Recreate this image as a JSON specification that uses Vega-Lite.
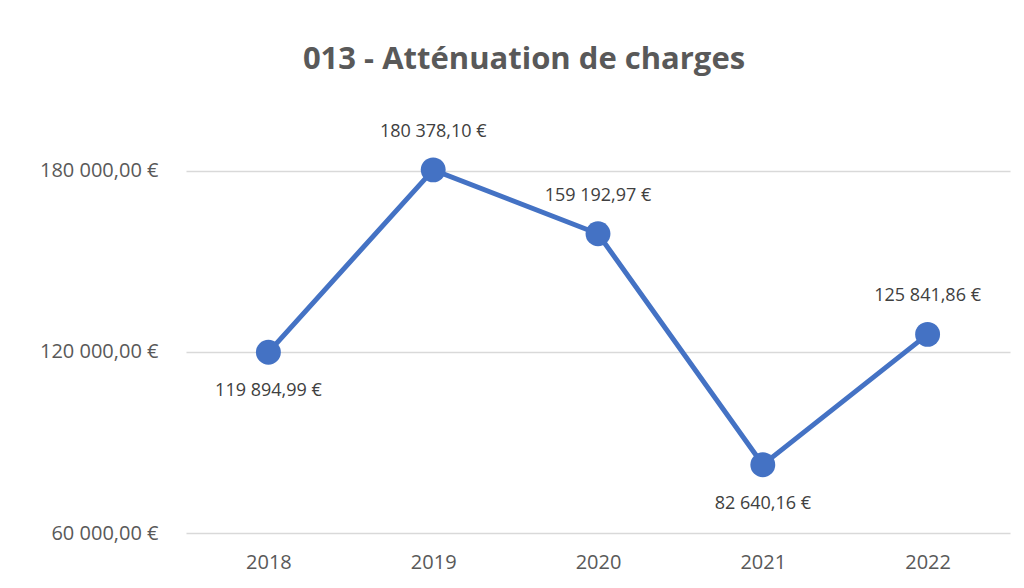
{
  "$schema": "https://vega.github.io/schema/vega-lite/v6.json",
  "autosize": "none",
  "width": 824,
  "height": 443,
  "padding": {"left": 186, "top": 90, "right": 14, "bottom": 55},
  "background": "white",
  "config": {"view": {"stroke": null}, "font": "Open Sans"},
  "title": {
    "text": "013 - Atténuation de charges",
    "font": "Open Sans",
    "fontSize": 31,
    "fontWeight": "bold",
    "color": "#595959",
    "anchor": "middle",
    "dx": -74,
    "offset": 14
  },
  "data": {
    "values": [
      {"year": "2018", "value": 119894.99, "label": "119 894,99 €", "pos": "below"},
      {"year": "2019", "value": 180378.10, "label": "180 378,10 €", "pos": "above"},
      {"year": "2020", "value": 159192.97, "label": "159 192,97 €", "pos": "above"},
      {"year": "2021", "value": 82640.16, "label": "82 640,16 €", "pos": "below"},
      {"year": "2022", "value": 125841.86, "label": "125 841,86 €", "pos": "above"}
    ]
  },
  "encoding": {
    "x": {
      "field": "year", "type": "ordinal",
      "scale": {"type": "point", "padding": 0.5},
      "axis": {"title": null, "labelAngle": 0, "domain": false, "ticks": false, "labelFontSize": 20, "labelColor": "#595959", "labelPadding": 19, "labelFont": "Open Sans"}
    },
    "y": {
      "field": "value", "type": "quantitative",
      "scale": {"domain": [60000, 206850], "nice": false, "zero": false},
      "axis": {"title": null, "values": [60000, 120000, 180000], "labelExpr": "replace(format(datum.value, ','), ',', ' ') + ',00 €'", "domain": false, "ticks": false, "labelFontSize": 20, "labelColor": "#595959", "labelPadding": 28, "gridColor": "#d9d9d9", "gridWidth": 1.5, "labelFont": "Open Sans"}
    }
  },
  "layer": [
    {"mark": {"type": "line", "color": "#4472C4", "strokeWidth": 5}},
    {"mark": {"type": "point", "filled": true, "opacity": 1, "color": "#4472C4", "size": 620}},
    {
      "transform": [{"filter": "datum.pos === 'above'"}],
      "mark": {"type": "text", "dy": -38, "fontSize": 18, "color": "#404040", "font": "Open Sans"},
      "encoding": {"text": {"field": "label"}}
    },
    {
      "transform": [{"filter": "datum.pos === 'below'"}],
      "mark": {"type": "text", "dy": 39, "fontSize": 18, "color": "#404040", "font": "Open Sans"},
      "encoding": {"text": {"field": "label"}}
    }
  ]
}
